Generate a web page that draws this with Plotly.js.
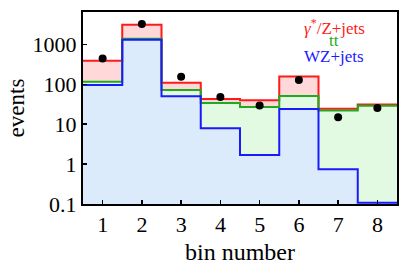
<!DOCTYPE html>
<html>
<head>
<meta charset="utf-8">
<script src="https://cdn.plot.ly/plotly-3.0.1.min.js"></script>
<style>html,body{margin:0;padding:0;background:#fff;}#plot{width:399px;height:265px;}</style>
</head>
<body>
<div id="plot"></div>
<script>
const bins = [1, 2, 3, 4, 5, 6, 7, 8];
const zjets = [388, 3100, 109, 42.7, 40, 157, 24.5, 31];   // total (γ*/Z+jets stacked on top)
const ttbar = [116, 1380, 72, 34, 27, 51, 22, 29];        // tt + WZ
const wzjets = [96, 1300, 50, 7.9, 1.7, 24, 0.74, 0.107];  // WZ+jets
const dataPts = [440, 3240, 155, 48, 29.5, 127, 14.8, 25.4];
const yTickVals = [0.1, 1, 10, 100, 1000];
const yTickText = ['0.1', '1', '10', '100', '1000'];

function steps(vals) {
  const xs = [], ys = [];
  bins.forEach((b, i) => { xs.push(b - 0.5, b + 0.5); ys.push(vals[i], vals[i]); });
  return {xs, ys};
}

const series = [
  {v: zjets, line: '#ff1a1a', fill: '#ffd9d9'},
  {v: ttbar, line: '#1faa1f', fill: '#e2f9e2'},
  {v: wzjets, line: '#1a1aff', fill: '#dcebfb'}
];

const traces = [];
series.forEach(s => {
  const st = steps(s.v);
  traces.push({x: st.xs, y: st.ys, mode: 'lines', fill: 'tozeroy', fillcolor: s.fill,
    line: {width: 0, color: s.fill}, hoverinfo: 'skip', showlegend: false});
});
series.forEach(s => {
  const st = steps(s.v);
  traces.push({x: st.xs, y: st.ys, mode: 'lines', line: {width: 2, color: s.line}, showlegend: false});
});
traces.push({x: bins, y: dataPts, mode: 'markers', marker: {size: 8, color: '#000'}, showlegend: false});

const font = 'Liberation Serif';
const layout = {
  width: 399, height: 265,
  margin: {l: 83, r: 2, t: 12, b: 61},
  paper_bgcolor: '#fff', plot_bgcolor: '#fff',
  showlegend: false,
  font: {family: font, color: '#000'},
  xaxis: {
    range: [0.5, 8.5], tickvals: bins, ticks: 'inside', ticklen: 4, tickwidth: 1.5, tickcolor: '#000',
    showline: true, linewidth: 2, linecolor: '#000', mirror: true, showgrid: false, zeroline: false,
    tickfont: {size: 22, family: font},
    title: {text: 'bin number', font: {size: 24, family: font}, standoff: 9}
  },
  yaxis: {
    type: 'log', range: [-1, 3.81], tickvals: yTickVals, ticktext: yTickText,
    ticks: 'inside', ticklen: 4, tickwidth: 1.5, tickcolor: '#000',
    showline: true, linewidth: 2, linecolor: '#000', mirror: true, showgrid: false, zeroline: false,
    tickfont: {size: 22, family: font},
    title: {text: 'events', font: {size: 23, family: font}, standoff: 2}
  },
  annotations: [
    {text: '<i>γ</i><sup>*</sup>/Z+jets', xref: 'paper', yref: 'paper', x: 0.80, y: 0.92, xanchor: 'center', yanchor: 'middle', showarrow: false, borderpad: 0,
      font: {size: 17, color: '#ff1a1a', family: font}},
    {text: 'tt', xref: 'paper', yref: 'paper', x: 0.80, y: 0.852, xanchor: 'center', yanchor: 'middle', showarrow: false, borderpad: 0,
      font: {size: 17, color: '#1faa1f', family: font}},
    {text: 'WZ+jets', xref: 'paper', yref: 'paper', x: 0.80, y: 0.768, xanchor: 'center', yanchor: 'middle', showarrow: false, borderpad: 0,
      font: {size: 17, color: '#1a1aff', family: font}}
  ]
};
Plotly.newPlot('plot', traces, layout, {displayModeBar: false, staticPlot: true});
</script>
</body>
</html>
